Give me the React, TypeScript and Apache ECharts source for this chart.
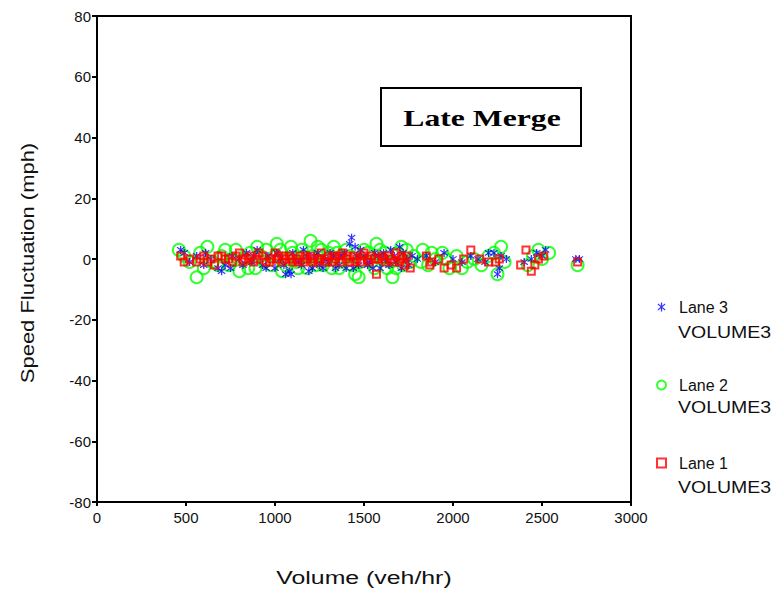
import React, { useEffect, useRef } from "react";
import * as echarts from "echarts";

const xTicks = [0, 500, 1000, 1500, 2000, 2500, 3000];
const yTicks = [-80, -60, -40, -20, 0, 20, 40, 60, 80];
const seriesNames = ["Lane 3", "Lane 2", "Lane 1"];
const legendSub = "VOLUME3";
const chartTitle = "Late Merge";
const xName = "Volume (veh/hr)";
const yName = "Speed Fluctuation (mph)";

const lane3: [number, number][] = [
  [470, 3], [490, 2], [520, -1], [560, 1], [600, -2], [640, 0], [680, -3], [700, -4], [720, -2],
  [760, 1], [800, 0], [840, 2], [870, -1], [900, 3], [930, -2], [960, 1], [1000, -3], [1030, 0],
  [1060, -5], [1080, -4], [1100, 2], [1130, -1], [1160, 3], [1190, -4], [1220, 1], [1250, -2],
  [1280, 0], [1310, 2], [1340, -3], [1370, 1], [1400, -3], [1420, 5], [1430, 7], [1450, 4],
  [1470, -2], [1500, 1], [1530, -1], [1560, 2], [1590, -3], [1620, 0], [1650, 3], [1680, -1],
  [1700, 4], [1720, 2], [1750, -2], [1800, 0], [1850, 1], [1900, -1], [1950, 2], [2000, 0],
  [2050, -1], [2100, 1], [2140, 0], [2200, 2], [2250, -5], [2260, -3], [2270, 1], [2300, 0],
  [2400, -1], [2440, 0], [2470, 2], [2500, 1], [2520, 3], [2690, 0], [2710, 0],
  [610, 2], [750, -3], [820, -2], [880, 1], [950, -3], [1010, 2], [1050, -2], [1090, -5],
  [1150, -2], [1180, 1], [1210, -3], [1240, 2], [1270, -3], [1300, -1], [1330, 1], [1360, -2],
  [1390, 2], [1440, -3], [1460, 1], [1480, 3], [1520, -2], [1550, -3], [1580, 1], [1610, 2],
  [1640, -2], [1670, 1], [1710, -3], [1740, 0], [1770, 1], [2180, -1], [2230, 2],
];

const lane2: [number, number][] = [
  [460, 3], [490, 1], [520, -1], [560, -6], [580, 2], [620, 4], [650, -1], [700, 1], [740, -2],
  [780, 3], [800, -4], [830, 0], [860, 2], [890, -3], [920, 1], [950, 3], [980, -2], [1010, 5],
  [1040, -4], [1070, 0], [1100, 2], [1130, -3], [1160, 1], [1200, 6], [1230, -2], [1260, 3],
  [1290, 0], [1320, -3], [1350, 2], [1380, -1], [1420, 1], [1450, -5], [1470, -6], [1500, 3],
  [1540, -1], [1570, 5], [1600, 0], [1630, -3], [1660, -6], [1690, 2], [1720, -2], [1740, 3],
  [1780, 1], [1830, 3], [1860, -2], [1900, 0], [1940, 2], [1980, -3], [2020, 1], [2080, -1],
  [2120, 0], [2160, -2], [2200, 1], [2250, -5], [2270, 4], [2290, -1], [2420, -2], [2450, 1],
  [2480, 3], [2500, 0], [2540, 2], [2700, -2],
  [600, -3], [680, -2], [720, 3], [760, 0], [850, -3], [900, 4], [940, -1], [1000, 1],
  [1030, 3], [1060, -2], [1090, 4], [1120, -1], [1150, 3], [1180, -3], [1210, 1], [1240, 4],
  [1270, -2], [1300, 2], [1330, 4], [1360, -3], [1400, 3], [1430, -2], [1480, -1], [1520, 2],
  [1560, -3], [1590, 3], [1620, 2], [1650, -1], [1680, -3], [1710, 4], [1760, -1], [1820, -1],
  [1880, 2], [1960, 0], [2050, -3], [2230, 2],
];

const lane1: [number, number][] = [
  [470, 1], [490, -1], [520, 0], [560, -1], [600, 1], [640, 0], [660, -2], [700, 1], [720, 0],
  [760, -1], [800, 2], [830, 0], [860, 1], [880, -1], [900, 0], [930, 1], [950, -1], [980, 0],
  [1000, 2], [1020, 1], [1040, -1], [1060, 0], [1080, 1], [1100, -1], [1120, 0], [1140, 1],
  [1160, -1], [1180, 0], [1200, 1], [1220, 0], [1240, -1], [1260, 2], [1280, 0], [1300, 1],
  [1320, -1], [1340, 0], [1360, 1], [1380, 2], [1400, 0], [1420, -1], [1440, 1], [1460, 0],
  [1480, -1], [1500, 2], [1520, 0], [1540, 1], [1570, -5], [1580, 0], [1600, 1], [1620, -1],
  [1650, 0], [1680, 2], [1700, -1], [1720, 0], [1740, 1], [1760, -3], [1850, 1], [1880, -1],
  [1920, 0], [1950, -3], [1990, -2], [2020, -3], [2060, 0], [2100, 3], [2150, 0], [2200, -1],
  [2240, -1], [2260, 0], [2380, -2], [2410, 3], [2440, -4], [2460, -2], [2480, 0], [2510, 1],
  [2700, -1],
  [580, 0], [620, -1], [680, 1], [740, 0], [780, 1], [820, -1], [850, 0], [910, 2], [970, -1],
  [1010, 0], [1050, 1], [1090, 0], [1130, -1], [1170, 1], [1210, -1], [1250, 0], [1290, -1],
  [1330, 1], [1370, -1], [1410, 1], [1450, -1], [1490, 1], [1530, -1], [1560, 0], [1610, 0],
  [1640, 1], [1670, -1], [1710, 1], [1730, -2], [1870, -2],
];

const starPath =
  "path://M4.3,0H5.7V10H4.3Z M0.6,2.3L1.3,1.1L9.4,7.7L8.7,8.9Z M0.6,7.7L8.7,1.1L9.4,2.3L1.3,8.9Z";

export default function App() {
  const ref = useRef<HTMLDivElement>(null);
  useEffect(() => {
    if (!ref.current) return;
    const chart = echarts.init(ref.current, null, { renderer: "svg" });
    const axisFont = { fontFamily: "Liberation Sans", fontSize: 15, color: "#111" };
    const subText = (top: number) => ({
      type: "text",
      x: 678,
      y: top,
      scaleX: 1.22,
      style: { text: legendSub, font: "16px 'Liberation Sans'", fill: "#111", verticalAlign: "middle" },
    });
    chart.setOption({
      animation: false,
      backgroundColor: "#fff",
      grid: {
        left: 97,
        right: 144,
        top: 16,
        bottom: 89,
        show: true,
        borderColor: "#000",
        borderWidth: 2,
      },
      xAxis: {
        type: "value",
        min: xTicks[0],
        max: xTicks[xTicks.length - 1],
        interval: 500,
        axisLine: { onZero: false, lineStyle: { color: "#000", width: 2 } },
        axisTick: { lineStyle: { color: "#000", width: 2 }, length: 4 },
        axisLabel: { ...axisFont, margin: 8, formatter: (v: number) => String(v) },
        splitLine: { show: false },
      },
      yAxis: {
        type: "value",
        min: yTicks[0],
        max: yTicks[yTicks.length - 1],
        interval: 20,
        axisLine: { onZero: false, lineStyle: { color: "#000", width: 2 } },
        axisTick: { lineStyle: { color: "#000", width: 2 }, length: 5 },
        axisLabel: { ...axisFont, margin: 6, formatter: (v: number) => String(v) },
        splitLine: { show: false },
      },
      legend: {
        data: seriesNames,
        orient: "vertical",
        left: 651,
        top: 294,
        itemGap: 62,
        itemWidth: 9,
        itemHeight: 9,
        textStyle: {
          fontFamily: "Liberation Sans",
          fontSize: 16,
          color: "#111",
          lineHeight: 16,
          padding: [0, 0, 0, 8],
        },
      },
      graphic: [
        subText(333),
        subText(408),
        subText(488),
        {
          type: "text",
          x: 364,
          y: 578,
          scaleX: 1.38,
          style: {
            text: xName,
            font: "18px 'Liberation Sans'",
            fill: "#111",
            align: "center",
            verticalAlign: "middle",
          },
        },
        {
          type: "text",
          x: 28,
          y: 263,
          rotation: Math.PI / 2,
          scaleX: 1.22,
          style: {
            text: yName,
            font: "18px 'Liberation Sans'",
            fill: "#111",
            align: "center",
            verticalAlign: "middle",
          },
        },
        {
          type: "rect",
          shape: { x: 381, y: 88, width: 200, height: 58 },
          style: { fill: "#fff", stroke: "#000", lineWidth: 2 },
        },
        {
          type: "text",
          x: 482,
          y: 118,
          scaleX: 1.32,
          style: {
            text: chartTitle,
            font: "bold 24px 'Liberation Serif'",
            fill: "#000",
            align: "center",
            verticalAlign: "middle",
          },
        },
      ],
      series: [
        {
          name: seriesNames[1],
          type: "scatter",
          data: lane2,
          symbol: "circle",
          symbolSize: 12,
          itemStyle: { color: "rgba(0,0,0,0)", borderColor: "#00ff00", borderWidth: 2 },
          z: 2,
        },
        {
          name: seriesNames[0],
          type: "scatter",
          data: lane3,
          symbol: starPath,
          symbolSize: 8,
          itemStyle: { color: "#0000ff" },
          z: 3,
        },
        {
          name: seriesNames[2],
          type: "scatter",
          data: lane1,
          symbol: "rect",
          symbolSize: 7,
          itemStyle: { color: "rgba(0,0,0,0)", borderColor: "#ff0000", borderWidth: 2 },
          z: 4,
        },
      ],
    });
    return () => chart.dispose();
  }, []);
  return <div ref={ref} style={{ width: 775, height: 591, position: "absolute", left: 0, top: 0 }} />;
}
